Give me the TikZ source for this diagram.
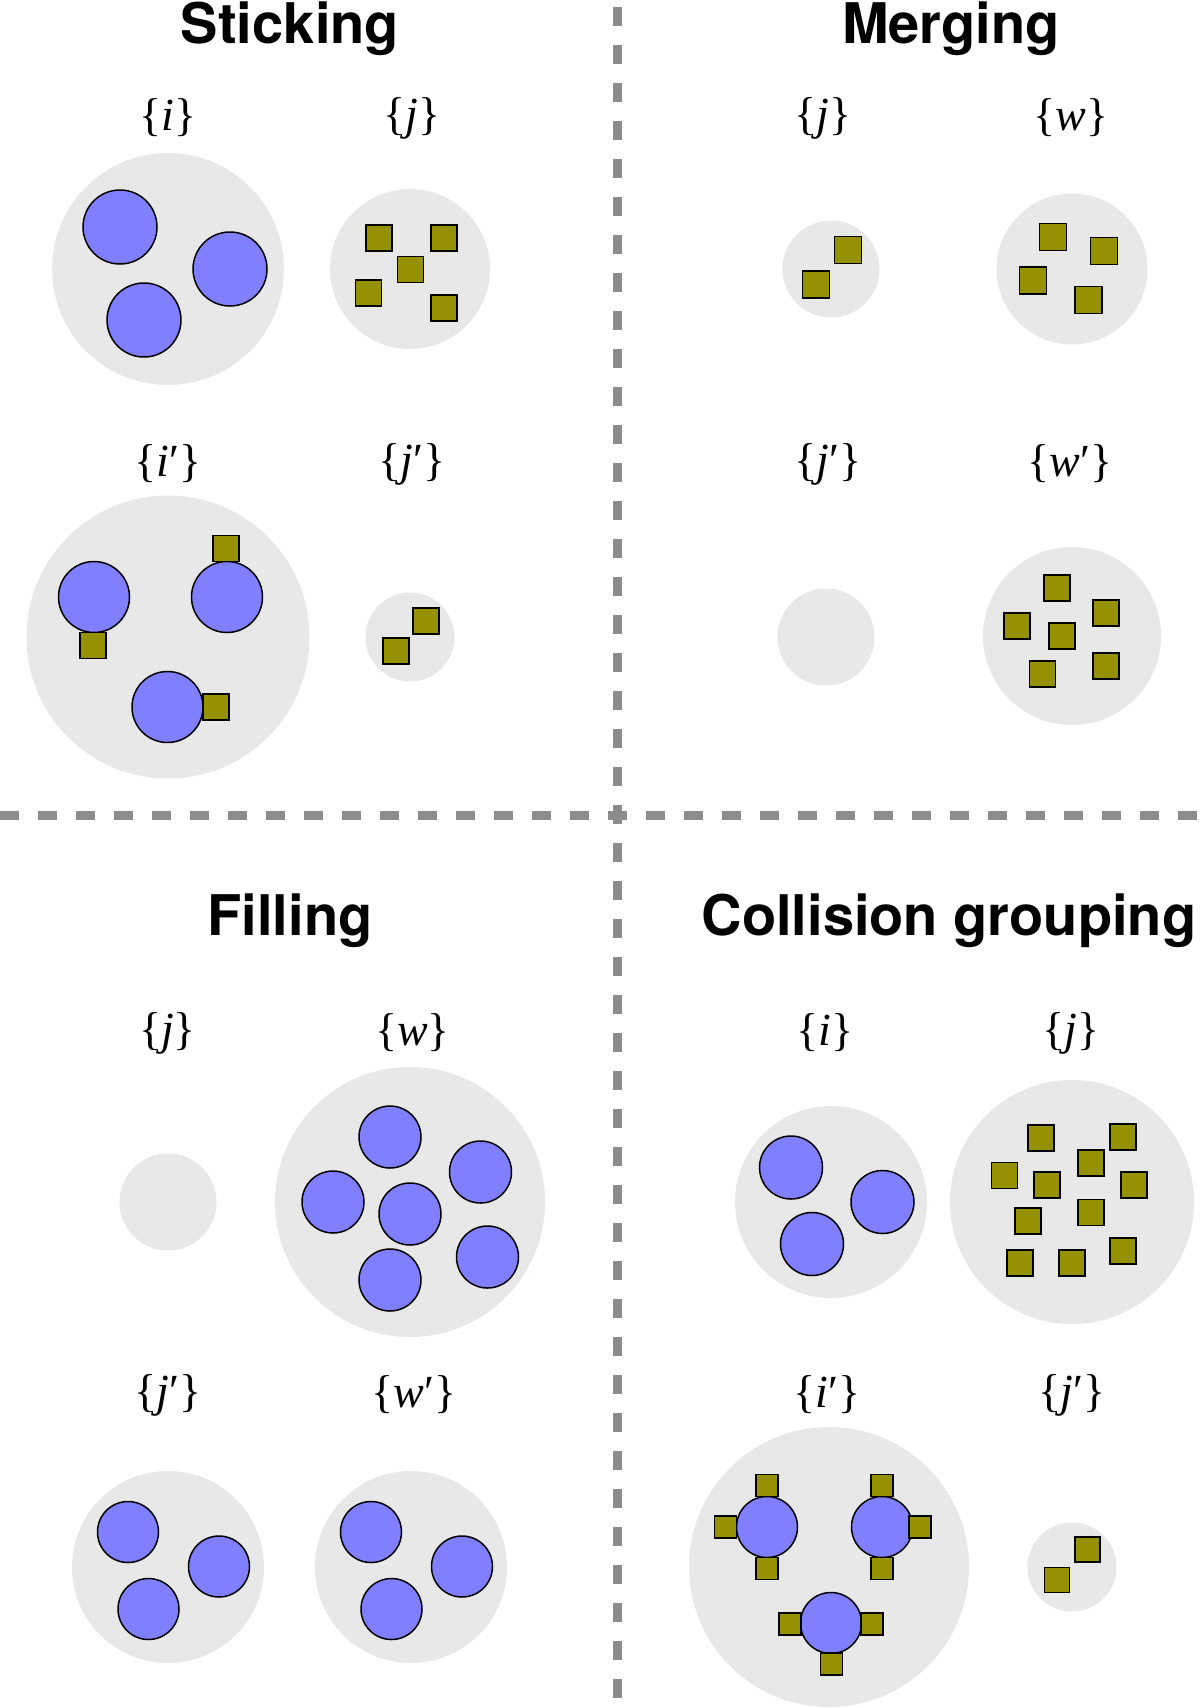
\documentclass[tikz,border=0pt]{standalone}
\usepackage{fontspec}
\setsansfont{TeX Gyre Heros}
\newfontfamily\labelfont{Liberation Serif}
\definecolor{setgray}{RGB}{232,232,232}
\definecolor{partblue}{RGB}{127,127,255}
\definecolor{partolive}{RGB}{150,145,0}
\definecolor{splitgray}{RGB}{140,140,140}
\begin{document}
\begin{tikzpicture}[x=0.5pt,y=-0.5pt,
  setdisc/.style={circle,fill=setgray,inner sep=0pt,minimum size={(#1)*0.5pt}},
  ball/.style={circle,draw=black,line width=0.75pt,fill=partblue,inner sep=0pt,minimum size={(#1)*0.5pt}},
  grain/.style={rectangle,draw=black,line width=0.9pt,fill=partolive,inner sep=0pt,minimum size={(#1)*0.5pt}},
  setname/.style={inner sep=0pt,font=\labelfont\fontsize{23}{27}\selectfont},
  paneltitle/.style={anchor=base,inner sep=0pt,font=\sffamily\bfseries\fontsize{28}{33}\selectfont},
  divider/.style={draw=splitgray,line width=4.5pt,dash pattern=on 9.5pt off 9.5pt}]
\path[use as bounding box] (0,0) rectangle (1200,1708);

\draw[divider,dash phase=15.5pt] (617,0) -- (617,1708);
\draw[divider] (0,815) -- (1200,815);

% Sticking
\node[paneltitle] (sttitle) at (290,43.5) {Sticking};
\node[setname] (stilab) at (168,118) {\{\textit{i}\}};
\node[setname] (stjlab) at (412,118) {\{\textit{j}\}};
\node[setname] (stiplab) at (168,464) {\{\textit{i}′\}};
\node[setname] (stjplab) at (412,464) {\{\textit{j}′\}};
\node[setdisc=232] (sti) at (168,269) {};
\node[setdisc=160] (stj) at (410,269) {};
\node[setdisc=283] (stip) at (168,637) {};
\node[setdisc=89] (stjp) at (410,637) {};
\foreach \x/\y [count=\k] in {120/227,230/269,144/320}
  \node[ball=74] (stib\k) at (\x,\y) {};
\foreach \x/\y [count=\k] in {379/238,444/238,410.5/269.5,368.5/293,444/308}
  \node[grain=26] (stjg\k) at (\x,\y) {};
\foreach \x/\y [count=\k] in {94/597,227/597,167.5/707}
  \node[ball=71] (stipb\k) at (\x,\y) {};
\foreach \x/\y [count=\k] in {93/645.5,226/548.5,216/707}
  \node[grain=26] (stipg\k) at (\x,\y) {};
\foreach \x/\y [count=\k] in {426/621,396/651}
  \node[grain=26] (stjpg\k) at (\x,\y) {};

% Merging
\node[paneltitle] (metitle) at (951,43.5) {Merging};
\node[setname] (mejlab) at (823,118) {\{\textit{j}\}};
\node[setname] (mewlab) at (1071,118) {\{\textit{w}\}};
\node[setname] (mejplab) at (828,464) {\{\textit{j}′\}};
\node[setname] (mewplab) at (1070,464) {\{\textit{w}′\}};
\node[setdisc=97] (mej) at (831,269) {};
\node[setdisc=151] (mew) at (1072,269) {};
\node[setdisc=97] (mejp) at (826,637) {};
\node[setdisc=178] (mewp) at (1072,636) {};
\foreach \x/\y [count=\k] in {848/250,816/284.5}
  \node[grain=27] (mejg\k) at (\x,\y) {};
\foreach \x/\y [count=\k] in {1053/237,1104/251,1033/280.5,1088.5/300}
  \node[grain=27] (mewg\k) at (\x,\y) {};
\foreach \x/\y [count=\k] in {1057/588,1106/613,1017/626,1062/636,1106/666,1042.5/674}
  \node[grain=26] (mewpg\k) at (\x,\y) {};

% Filling
\node[paneltitle] (fititle) at (290,935) {Filling};
\node[setname] (fijlab) at (167.5,1033) {\{\textit{j}\}};
\node[setname] (fiwlab) at (412.5,1033) {\{\textit{w}\}};
\node[setname] (fijplab) at (168,1395) {\{\textit{j}′\}};
\node[setname] (fiwplab) at (414,1395) {\{\textit{w}′\}};
\node[setdisc=97] (fij) at (168,1202) {};
\node[setdisc=270] (fiw) at (410,1202) {};
\node[setdisc=192] (fijp) at (168,1567) {};
\node[setdisc=192] (fiwp) at (411,1567) {};
\foreach \x/\y [count=\k] in {390/1137,480.5/1172,333/1202,410/1214,487.5/1257,390/1280}
  \node[ball=62] (fiwb\k) at (\x,\y) {};
\foreach \x/\y [count=\k] in {128/1532,219/1566.5,148.5/1609}
  \node[ball=61] (fijpb\k) at (\x,\y) {};
\foreach \x/\y [count=\k] in {371/1532,462/1566.5,391.5/1609}
  \node[ball=61] (fiwpb\k) at (\x,\y) {};

% Collision grouping
\node[paneltitle] (cotitle) at (949,935) {Collision grouping};
\node[setname] (coilab) at (825,1033) {\{\textit{i}\}};
\node[setname] (cojlab) at (1071,1033) {\{\textit{j}\}};
\node[setname] (coiplab) at (827,1395) {\{\textit{i}′\}};
\node[setname] (cojplab) at (1072,1395) {\{\textit{j}′\}};
\node[setdisc=192] (coi) at (831,1202) {};
\node[setdisc=244] (coj) at (1072,1202) {};
\node[setdisc=280] (coip) at (829,1567) {};
\node[setdisc=89] (cojp) at (1072,1567) {};
\foreach \x/\y [count=\k] in {791/1167.5,882.5/1202,812/1244}
  \node[ball=63] (coib\k) at (\x,\y) {};
\foreach \x/\y [count=\k] in {1041/1138,1123/1137,1091/1163,1004.5/1175.5,1047/1185,1134/1185,1091/1212.5,1028/1221,1020/1263,1072/1263,1123/1251}
  \node[grain=26] (cojg\k) at (\x,\y) {};
\foreach \x/\y [count=\k] in {767/1527,882/1527,831/1623}
  \node[ball=61] (coipb\k) at (\x,\y) {};
\foreach \x/\y [count=\k] in {767/1485.5,725.5/1527,767/1568.5,882/1485.5,920/1527,882/1568.5,790/1624,872/1624,831.5/1664}
  \node[grain=22] (coipg\k) at (\x,\y) {};
\foreach \x/\y [count=\k] in {1087.5/1549.5,1057/1580}
  \node[grain=25] (cojpg\k) at (\x,\y) {};
\end{tikzpicture}
\end{document}
